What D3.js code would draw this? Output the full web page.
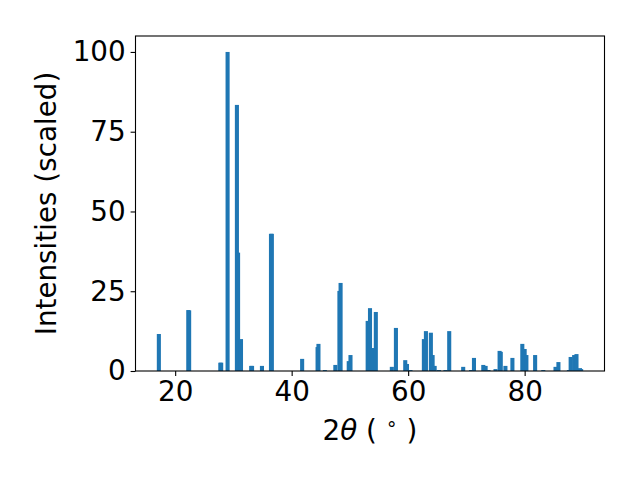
<html>
  <head>
    <meta charset="UTF-8">
    <title>XRD pattern</title>
    <style type="text/css">
      body { margin: 0; background-color: #fff; }
      svg { font-family: "DejaVu Sans", sans-serif; }
      .axis path, .axis line { stroke: #000; stroke-width: 1.1px; }
      .axis text { fill: #000; font-size: 27.8px; font-family: "DejaVu Sans", sans-serif; }
      .label { font-size: 27.8px; fill: #000; }
    </style>
    <script src="https://cdn.jsdelivr.net/npm/d3@7"></script>
  </head>
  <body>
    <div id="chart"></div>
    <script type="text/javascript">

      // peak positions (2theta, degrees) and scaled intensities
      var twoTheta = [17.2, 22.25, 22.4, 27.75, 27.9, 29.0, 30.6, 30.8, 31.3, 33.05, 33.2, 34.9,
        36.45, 36.6, 41.8, 44.45, 44.6, 45.7, 47.5, 48.2, 48.4, 49.8, 50.1,
        53.05, 53.45, 53.9, 54.45, 57.2, 57.9, 59.5, 59.8, 60.4,
        62.7, 63.05, 63.9, 64.2, 64.55, 65.3, 66.4, 67.05, 69.45, 70.8, 71.3,
        72.9, 73.3, 73.8, 75.0, 75.7, 75.9, 76.7, 77.9, 79.6, 80.0, 80.3,
        81.8, 83.2, 85.3, 85.8, 87.6, 87.9, 88.5, 88.9, 89.5, 89.7];
      var intensity = [11.6, 19.1, 19.0, 2.6, 2.6, 100, 83.4, 37.1, 10.0, 1.6, 1.6, 1.6,
        43.0, 43.0, 3.8, 7.5, 8.5, 0.3, 1.9, 25.1, 27.6, 3.1, 5.0,
        15.7, 19.7, 7.2, 18.5, 1.3, 13.5, 3.4, 2.2, 0.3,
        10.0, 12.5, 12.0, 5.0, 1.6, 0.3, 0.3, 12.5, 1.3, 0.3, 4.1,
        1.9, 1.6, 0.3, 0.6, 6.3, 6.0, 1.6, 4.1, 8.5, 6.9, 5.0,
        5.0, 0.3, 1.3, 2.8, 0.3, 4.4, 5.0, 5.3, 0.9, 0.6];
      var xTicks = [20, 40, 60, 80];
      var yTicks = [0, 25, 50, 75, 100];
      var barWidth = 0.7;

      var width = 640, height = 480;
      // plot area edges (don't use "top" - it's window.top)
      var plotLeft = 135.5, plotRight = 604.5, plotTop = 36, plotBottom = 371;

      var data = twoTheta.map(function(d, i) { return { x: d, y: intensity[i] }; });

      var svg = d3.select("#chart")
        .append("svg")
        .attr("width", width)
        .attr("height", height);

      // matplotlib style 5% margins around bar extents
      var lo = d3.min(twoTheta) - barWidth / 2, hi = d3.max(twoTheta) + barWidth / 2;
      var pad = (hi - lo) * 0.05;
      var xScale = d3.scaleLinear().domain([lo - pad, hi + pad]).range([plotLeft, plotRight]);
      var yScale = d3.scaleLinear().domain([0, d3.max(intensity) * 1.05]).range([plotBottom, plotTop]);

      svg.selectAll(".bar")
        .data(data)
        .enter()
        .append("rect")
        .attr("class", "bar")
        .attr("x", function(d) { return xScale(d.x - barWidth / 2); })
        .attr("width", function(d) { return xScale(d.x + barWidth / 2) - xScale(d.x - barWidth / 2); })
        .attr("y", function(d) { return yScale(d.y); })
        .attr("height", function(d) { return yScale(0) - yScale(d.y); })
        .attr("fill", "#1f77b4");

      // frame
      svg.append("rect")
        .attr("x", plotLeft).attr("y", plotTop)
        .attr("width", plotRight - plotLeft).attr("height", plotBottom - plotTop)
        .attr("fill", "none").attr("stroke", "#000").attr("stroke-width", 1.1);

      var xAxis = d3.axisBottom(xScale).tickValues(xTicks).tickSize(4.9).tickPadding(4.9).tickSizeOuter(0);
      var yAxis = d3.axisLeft(yScale).tickValues(yTicks).tickSize(4.9).tickPadding(4.9).tickSizeOuter(0);

      svg.append("g").attr("class", "axis")
        .attr("transform", "translate(0," + plotBottom + ")")
        .call(xAxis)
        .select(".domain").remove();
      svg.append("g").attr("class", "axis")
        .attr("transform", "translate(" + plotLeft + ",0)")
        .call(yAxis)
        .select(".domain").remove();

      // axis labels
      svg.append("text").attr("class", "label")
        .attr("transform", "translate(56," + ((plotTop + plotBottom) / 2) + ") rotate(-90)")
        .attr("text-anchor", "middle")
        .text("Intensities (scaled)");

      var xl = svg.append("text").attr("class", "label")
        .attr("x", (plotLeft + plotRight) / 2).attr("y", 440)
        .attr("text-anchor", "middle");
      xl.append("tspan").text("2");
      xl.append("tspan").attr("font-style", "italic").text("θ");
      xl.append("tspan").text(" ( ");
      xl.append("tspan").attr("font-size", "19px").attr("dy", -10).text("∘");
      xl.append("tspan").attr("dy", 10).text(" )");

    </script>
  </body>
</html>
